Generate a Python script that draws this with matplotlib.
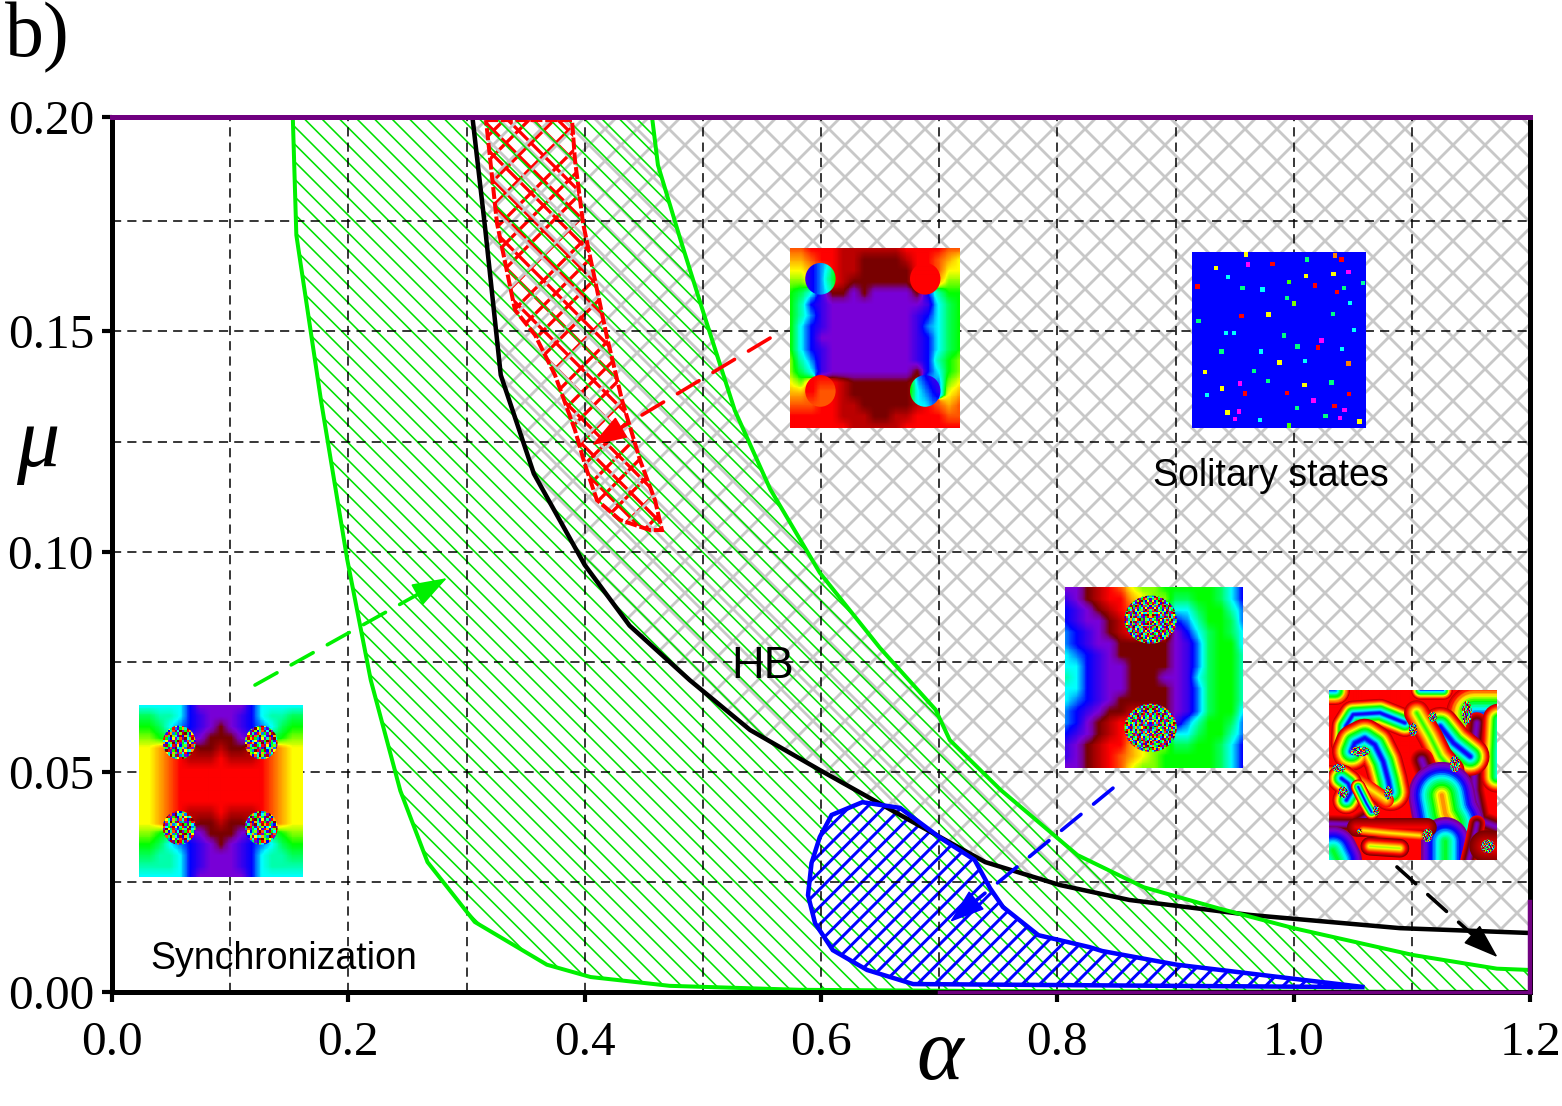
import numpy as np
import matplotlib
matplotlib.use("Agg")
import matplotlib.pyplot as plt
from matplotlib.collections import LineCollection
from matplotlib.colors import LinearSegmentedColormap
from matplotlib.patches import Ellipse, Polygon
from matplotlib.transforms import IdentityTransform

# boundaries
left_x = [0.153, 0.156, 0.177, 0.199, 0.219, 0.244, 0.267, 0.307, 0.368, 0.405, 0.472, 0.582, 0.75, 1.2]
left_y = [0.1987, 0.1719, 0.1341, 0.0983, 0.0708, 0.0457, 0.0295, 0.0159, 0.0062, 0.0034, 0.0014, 0.0005, 0.0002, 0.0]
right_x = [0.457, 0.462, 0.481, 0.502, 0.527, 0.557, 0.599, 0.65, 0.697, 0.709, 0.752, 0.817, 0.873, 0.935, 1.0, 1.101, 1.172, 1.2]
right_y = [0.1987, 0.1878, 0.1709, 0.1530, 0.1321, 0.1142, 0.0952, 0.0781, 0.0641, 0.0572, 0.0459, 0.0311, 0.0238, 0.0191, 0.0145, 0.0084, 0.0053, 0.0050]
hb_x = [0.305, 0.316, 0.329, 0.357, 0.400, 0.438, 0.489, 0.540, 0.599, 0.667, 0.739, 0.802, 0.861, 0.963, 1.090, 1.2]
hb_y = [0.1987, 0.1729, 0.1401, 0.1177, 0.0970, 0.0832, 0.0708, 0.0595, 0.0504, 0.0402, 0.0295, 0.0243, 0.0209, 0.0175, 0.0145, 0.0134]
red_x = [0.3165, 0.3893, 0.3918, 0.3986, 0.4189, 0.4316, 0.4468, 0.4595, 0.4654, 0.4553, 0.4299, 0.4104, 0.4003, 0.3918, 0.3749, 0.3580, 0.3410, 0.3258]
red_y = [0.1980, 0.1980, 0.1889, 0.1746, 0.1487, 0.1344, 0.1208, 0.1117, 0.1049, 0.1049, 0.1072, 0.1117, 0.1197, 0.1276, 0.1401, 0.1492, 0.1549, 0.1746]
blue_x = [0.635, 0.667, 0.701, 0.730, 0.743, 0.754, 0.784, 0.827, 0.838, 0.901, 1.0, 1.06, 0.678, 0.639, 0.610, 0.595, 0.589, 0.592, 0.599, 0.609]
blue_y = [0.0431, 0.0418, 0.0350, 0.0300, 0.0236, 0.0193, 0.0129, 0.0102, 0.0093, 0.0062, 0.0030, 0.0011, 0.0018, 0.0050, 0.0095, 0.0156, 0.0220, 0.0293, 0.0352, 0.0402]

x_ticks = [0.0, 0.2, 0.4, 0.6, 0.8, 1.0, 1.2]
x_labels = ["0.0", "0.2", "0.4", "0.6", "0.8", "1.0", "1.2"]
y_ticks = [0.0, 0.05, 0.10, 0.15, 0.1987]
y_labels = ["0.00", "0.05", "0.10", "0.15", "0.20"]
grid_x = [0.1, 0.2, 0.3, 0.4, 0.5, 0.6, 0.7, 0.8, 0.9, 1.0, 1.1]
grid_y = [0.025, 0.05, 0.075, 0.10, 0.125, 0.15, 0.175]

green_arrow = [0.121, 0.0697, 0.2835, 0.0940]
red_arrow = [0.5569, 0.1485, 0.4062, 0.1242]
blue_arrow = [0.8471, 0.0463, 0.7091, 0.0159]
black_arrow = [1.0874, 0.0284, 1.1726, 0.0079]

# inset snapshots, one hex digit per cell = phase in 1/16 of a turn
sync_rows = [
    "aaaaaceeeeecaaaaa",
    "8899acdeeedca9988",
    "778abcde0edcba877",
    "66789de000ed98766",
    "55432100100123455",
    "55432111211123455",
    "55432222222223455",
    "55432222222223455",
    "55432222222223455",
    "55432222222223455",
    "55432111211123455",
    "55432100100123455",
    "66789de000ed98766",
    "778abcde0edcba877",
    "8899acdeeedca9988",
    "9999acdeeedca9999",
    "aaaaaceeeeecaaaaa",
]
pair_rows = [
    "ee0123566777778ac",
    "de0122456688778ac",
    "cde0123567aa8779b",
    "cdee013567cb9778b",
    "bcde012222eca878a",
    "bcdee00000edb877a",
    "abcde00000edb8779",
    "aacdee0000edb8779",
    "9acdee000eeda8779",
    "aacdee0000edb8779",
    "abcde00000edb8779",
    "bcde001110edb877a",
    "bce0122222db9778b",
    "cde0123567aa8779b",
    "de0122456688778ac",
    "de0123456777778ac",
    "ee0123566777778ac",
]
ring_rows = [
    "33222111111222233",
    "44322110000122345",
    "55432110000022355",
    "66542100000022466",
    "78ad00e0eeee0c977",
    "79cdeeeeeeeeeda87",
    "79bdeeeeeeeedca87",
    "7acdeeeeeeeedba87",
    "7aceeeeeeeeedca87",
    "7acdeeeeeeeedca87",
    "69bdeeeeeeeedc976",
    "68adeeeeeeee0ca76",
    "5642210000001ab65",
    "44322100000017b54",
    "33322110000012343",
    "22222111001122233",
    "22222211111222222",
]
# turbulent inset as painted colour bands, back to front:
# path read in a 3x crop, half width there, phase digit on the spine, phase digit at the edge
turb_bands = [
    ([(300, 32), (370, 32)], 28, 12, 1),
    ([(28, 32), (45, 32)], 45, 12, 1),
    ([(75, 190), (78, 140), (100, 105), (180, 100), (255, 130)], 42, 13, 1),
    ([(460, 100), (530, 100)], 85, 12, 1),
    ([(470, 130), (462, 200), (462, 330), (480, 420), (530, 440)], 32, 14, 18),
    ([(535, 120), (530, 220), (530, 290)], 48, 10, 1),
    ([(360, 140), (400, 190), (450, 230)], 58, 13, 1),
    ([(290, 100), (330, 170), (360, 230), (395, 270)], 38, 7, 1),
    ([(305, 240), (325, 290), (300, 340)], 36, 14, 18),
    ([(365, 345), (375, 400), (392, 430)], 100, 3, 15),
    ([(375, 480), (375, 545)], 72, 7, 15),
    ([(28, 430), (105, 432), (150, 405)], 28, 14, 18),
    ([(110, 440), (320, 440)], 28, 2, 0),
    ([(130, 450), (210, 458), (300, 465)], 14, 5, 2),
    ([(150, 497), (240, 503)], 28, 6, 0),
    ([(40, 510), (55, 540)], 72, 7, 15),
    ([(470, 430), (460, 480), (445, 540)], 25, 14, 18),
    ([(495, 497), (530, 500)], 48, 2, 0),
    ([(95, 215), (105, 190), (135, 175), (165, 195), (190, 245), (205, 300), (212, 335)], 58, 13, 1),
    ([(80, 280), (170, 340), (200, 360)], 22, 5, 2),
    ([(28, 285), (60, 290)], 30, 10, 1),
    ([(65, 295), (85, 310), (95, 335), (80, 360)], 42, 13, 1),
    ([(115, 320), (140, 370), (155, 395)], 22, 13, 1),
]
noise_rows = [
    "3a7e15c92d60b8",
    "e0582bd7491fa6",
    "16c93fa0e7248d",
    "9d24b7e6108c5f",
    "f3806ad1c49e27",
    "27bc5e93f0a614",
    "a5e1f7028d3b6c",
    "4c960b3e7a15d2",
    "d17a2f5c86e039",
    "68f3d0a94b12e7",
    "b02e71c6f59a48",
    "759d48e3a2c106",
    "c3a06f1b8ed724",
    "1e84b95207f6ad",
]
# noisy discs, centre and radii as fractions of the inset
sync_discs = [[0.245, 0.218, 0.10, 0.098], [0.745, 0.218, 0.10, 0.098], [0.245, 0.714, 0.10, 0.098], [0.745, 0.714, 0.10, 0.098]]
pair_discs = [[0.481, 0.18, 0.147, 0.133], [0.481, 0.778, 0.147, 0.133]]
turb_discs = [[0.82, 0.134, 0.03, 0.07], [0.617, 0.158, 0.025, 0.03], [0.50, 0.233, 0.025, 0.04], [0.183, 0.362, 0.06, 0.03],
              [0.06, 0.46, 0.04, 0.025], [0.75, 0.435, 0.03, 0.05], [0.353, 0.605, 0.025, 0.04], [0.084, 0.603, 0.03, 0.035],
              [0.28, 0.71, 0.02, 0.03], [0.18, 0.83, 0.015, 0.015], [0.586, 0.856, 0.03, 0.04], [0.946, 0.92, 0.04, 0.04]]
# smooth discs of the ring inset, centre and radii, then their own phase cells
ring_discs = [
    [0.18, 0.171, 0.09, 0.088, ["dcba7", "dcb97", "dcba8"]],
    [0.80, 0.171, 0.09, 0.088, ["22222", "22222", "22222"]],
    [0.18, 0.794, 0.09, 0.088, ["22222", "22333", "33333"]],
    [0.80, 0.794, 0.09, 0.088, ["7bcdd", "7abcd", "8aabb"]],
]

# solitary state dots, read in a 3x crop of the picture
dot_x = [1203, 1430, 1446, 1358, 1209, 1270, 1127, 1464, 1425, 1356, 1158, 1313, 1500, 1378, 1080, 1194, 1245, 1452, 1434, 1308, 1325, 1468, 1192, 1260, 1424, 1083, 1477, 1152, 1173, 1300, 1395, 1334, 1386, 1447, 1141, 1242, 1353, 1288, 1464, 1223, 1099, 1259, 1188, 1420, 1352, 1142, 1201, 1308, 1465, 1104, 1375, 1428, 1332, 1453, 1186, 1156, 1405, 1176, 1238, 1442, 1491, 1313]
dot_y = [72, 75, 87, 87, 103, 102, 114, 126, 131, 137, 141, 156, 158, 166, 169, 173, 178, 173, 185, 204, 220, 218, 257, 253, 252, 272, 299, 309, 309, 317, 332, 349, 353, 357, 365, 365, 394, 398, 401, 423, 427, 454, 461, 458, 465, 476, 491, 489, 492, 496, 512, 529, 534, 540, 545, 548, 559, 567, 571, 564, 576, 588]
dot_c = ["#ffff00", "#ff8000", "#ff0000", "#00ff80", "#ff00ff", "#ff0000", "#ffff00", "#ff00ff", "#ffff00", "#ffff00", "#00ffff", "#40ff00", "#00ffa0", "#ff0000", "#ff0000", "#00ff80", "#00ffff", "#00ff80", "#ff0000", "#00ff80", "#80ff00", "#00ffff", "#ff0000", "#ffff00", "#00ff80", "#00ff80", "#00ffff", "#00ffff", "#00ffff", "#00ff80", "#ff00ff", "#00ff80", "#ff0000", "#00ffff", "#00ff80", "#00ffff", "#00ffff", "#ffff00", "#ff8000", "#00ff80", "#ffff00", "#00ff80", "#ff00ff", "#00ff80", "#ffff00", "#ffff00", "#ff0000", "#ff0000", "#ff0000", "#00ffff", "#ff00ff", "#ff0000", "#00ff80", "#ff00ff", "#ff00ff", "#ffff00", "#00ff80", "#ff00ff", "#00ffff", "#ff00ff", "#ffff00", "#40ff00"]

DPI = 100
W, H = 1562, 1106
phase_cmap = LinearSegmentedColormap.from_list("phase", [
    (0 / 16, "#780000"), (2 / 16, "#ff0000"), (5 / 16, "#ffff00"), (7 / 16, "#00ff00"),
    (10 / 16, "#00ffff"), (12 / 16, "#0000ff"), (14 / 16, "#7800d8"), (15 / 16, "#780090"), (1, "#780000")], N=512)


def px_axes(x0, y0, x1, y1, zorder=10):
    a = fig.add_axes([x0 / W, 1 - y1 / H, (x1 - x0) / W, (y1 - y0) / H], zorder=zorder)
    a.set_axis_off()
    return a


def to_digits(rows):
    return np.array([[int(c, 16) for c in r] for r in rows]) / 16


def upsample(rows, size=200):
    # bilinear on the unit circle so that the phase wraps
    z = np.exp(2j * np.pi * to_digits(rows))
    h, w = z.shape
    yi = np.linspace(0, h - 1, size)
    xi = np.linspace(0, w - 1, size)
    y0 = np.minimum(yi.astype(int), h - 2)
    x0 = np.minimum(xi.astype(int), w - 2)
    fy = (yi - y0)[:, None]
    fx = (xi - x0)[None, :]
    out = (z[y0][:, x0] * (1 - fx) + z[y0][:, x0 + 1] * fx) * (1 - fy) + (z[y0 + 1][:, x0] * (1 - fx) + z[y0 + 1][:, x0 + 1] * fx) * fy
    return (np.angle(out) / (2 * np.pi)) % 1


def draw_disc(a, cx, cy, rx, ry, values):
    im = a.imshow(values, cmap=phase_cmap, vmin=0, vmax=1, extent=[cx - rx, cx + rx, cy + ry, cy - ry],
                  aspect="auto", interpolation="nearest", zorder=5)
    im.set_clip_path(Ellipse((cx, cy), 2 * rx, 2 * ry, transform=a.transData))


def inset(box, rows, discs):
    a = px_axes(*box)
    a.imshow(upsample(rows), cmap=phase_cmap, vmin=0, vmax=1, extent=[0, 1, 1, 0], aspect="auto", interpolation="nearest")
    noise = to_digits(noise_rows)
    for i, (cx, cy, rx, ry) in enumerate(discs):
        cells = np.roll(noise, i * 3, axis=i % 2)
        if rx > 0.12:
            cells = np.hstack([np.vstack([cells, cells[::-1]]), np.vstack([cells[:, ::-1], cells])])
        draw_disc(a, cx, cy, rx, ry, cells)
    a.set_xlim(0, 1)
    a.set_ylim(1, 0)
    return a


def paint_bands(a, bands):
    # each band is stroked wide to narrow, so the colour runs from edge to spine
    for path, half, spine, edge in bands:
        xs = [(p[0] - 28) / 502 for p in path]
        ys = [(p[1] - 32) / 506 for p in path]
        for t in np.linspace(1, 0.06, 18):
            phase = (spine + (edge - spine) * t) / 16 % 1
            a.plot(xs, ys, color=phase_cmap(phase), lw=2 * half * t / 3 * 72 / DPI, solid_capstyle="round", solid_joinstyle="round", zorder=2)


def hatch(xs, ys, color, lw, spacing, dirs, zorder):
    # diagonal lines at a fixed pixel spacing, clipped to the region
    patch = Polygon(np.column_stack([xs, ys]), closed=True, fill=False, edgecolor="none", transform=ax.transData)
    ax.add_patch(patch)
    segs = []
    for d in dirs:
        for c in np.arange(-W - H, W + H, spacing):
            if d == "/":
                segs.append([(0, c), (W, c + W)])
            else:
                segs.append([(0, c + W), (W, c)])
    lines = LineCollection(segs, colors=color, linewidths=lw * 72 / DPI, transform=IdentityTransform(), zorder=zorder)
    ax.add_collection(lines, autolim=False)
    lines.set_clip_path(patch)


def dashed_arrow(a, color):
    x0, y0, x1, y1 = a
    xs = np.array([x0, x0 + 0.9 * (x1 - x0)])
    ys = np.array([y0, y0 + 0.9 * (y1 - y0)])
    ax.plot(xs, ys, color=color, lw=3.6 * 72 / DPI, dashes=(7, 4.5), zorder=9, dash_capstyle="round")
    ax.annotate("", xy=(x1, y1), xytext=(x0 + 0.86 * (x1 - x0), y0 + 0.86 * (y1 - y0)),
                arrowprops=dict(arrowstyle="-|>,head_length=1.6,head_width=0.55", color=color, lw=1.2, mutation_scale=14, shrinkA=0, shrinkB=0), zorder=9)


fig = plt.figure(figsize=(W / DPI, H / DPI), dpi=DPI)
ax = fig.add_axes([112 / W, 1 - 992 / H, (1530 - 112) / W, (992 - 117) / H])
ax.set_xlim(0, 1.2)
ax.set_ylim(0, 0.1987)

grey_x = hb_x + [1.2]
grey_y = hb_y + [0.1987]
green_x = left_x + right_x[::-1]
green_y = left_y + right_y[::-1]
hatch(red_x, red_y, "#ff0000", 3.3, 25, "/\\", 2)
hatch(grey_x, grey_y, "#c8c8c8", 2.8, 32, "/\\", 3)
hatch(green_x, green_y, "#00e000", 1.6, 17.5, "\\", 4)
hatch(blue_x, blue_y, "#0000ff", 3.0, 17.5, "/", 5)

ax.vlines(grid_x, 0, 0.1987, color="black", lw=1.1, ls=(0, (6, 4)), zorder=6)
ax.hlines(grid_y, 0, 1.2, color="black", lw=1.1, ls=(0, (6, 4)), zorder=6)

ax.plot(hb_x, hb_y, color="black", lw=4.5 * 72 / DPI, zorder=7)
ax.plot(left_x, left_y, color="#00f000", lw=4 * 72 / DPI, zorder=7)
ax.plot(right_x, right_y, color="#00f000", lw=4 * 72 / DPI, zorder=7)
ax.fill(red_x, red_y, fill=False, edgecolor="#ff0000", lw=4 * 72 / DPI, ls=(0, (3, 0.7)), zorder=7)
ax.fill(blue_x, blue_y, fill=False, edgecolor="#0000ff", lw=4.5 * 72 / DPI, zorder=8)

for s in ax.spines.values():
    s.set_linewidth(5 * 72 / DPI)
    s.set_zorder(8)
ax.spines["top"].set_color("#700080")

ax.set_xticks(x_ticks)
ax.set_yticks(y_ticks)
ax.set_xticklabels(x_labels, family="Liberation Serif", fontsize=35.5)
ax.set_yticklabels(y_labels, family="Liberation Serif", fontsize=35.5)
ax.tick_params(axis="both", which="major", length=7, width=3)
ax.tick_params(axis="x", pad=14)
ax.tick_params(axis="y", pad=6)
ax.plot([0.7, 1.2], [0, 0], color="#700080", lw=2.5, zorder=9, clip_on=False)
ax.plot([1.2, 1.2], [0, 0.0205], color="#700080", lw=3.2, zorder=9, clip_on=False)

dashed_arrow(green_arrow, "#00f000")
dashed_arrow(red_arrow, "#ff0000")
dashed_arrow(blue_arrow, "#0000ff")
dashed_arrow(black_arrow, "black")

ax.text(0.551, 0.0740, "HB", family="Liberation Sans", fontsize=32.5, ha="center", va="center", zorder=9)
ax.text(0.9807, 0.1171, "Solitary states", family="Liberation Sans", fontsize=27, ha="center", va="center", zorder=9)
ax.text(0.0321, 0.0076, "Synchronization", family="Liberation Sans", fontsize=27, ha="left", va="center", zorder=9)

fig.text(5 / W, 1 - 38 / H, "b)", family="Liberation Serif", fontsize=56, ha="left", va="center")
fig.text(38 / W, 1 - 445 / H, "\u03bc", family="Liberation Serif", style="italic", fontsize=62, ha="center", va="center")
fig.text(940 / W, 1 - 1058 / H, "\u03b1", family="Liberation Serif", style="italic", fontsize=64, ha="center", va="center")

inset((139, 705, 303, 877), sync_rows, sync_discs)
ring_ax = inset((790, 248, 959, 428), ring_rows, [])
for cx, cy, rx, ry, cells in ring_discs:
    draw_disc(ring_ax, cx, cy, rx, ry, upsample(cells, 40))
ring_ax.set_xlim(0, 1)
ring_ax.set_ylim(1, 0)
inset((1065, 587, 1243, 768), pair_rows, pair_discs)

turb_ax = inset((1329, 690, 1497, 860), ["22", "22"], turb_discs)
paint_bands(turb_ax, turb_bands)
turb_ax.set_xlim(0, 1)
turb_ax.set_ylim(1, 0)

sol_ax = px_axes(1192, 252, 1366, 428)
sol_ax.set_axis_on()
sol_ax.set_facecolor("#0000ff")
sol_ax.set_xticks([])
sol_ax.set_yticks([])
for s in sol_ax.spines.values():
    s.set_visible(False)
sol_ax.set_xlim(1066, 1508)
sol_ax.set_ylim(595, 65)
sol_ax.scatter(dot_x, dot_y, c=dot_c, marker="s", s=10, linewidths=0, clip_on=False)

fig.savefig("out.png", dpi=DPI)
